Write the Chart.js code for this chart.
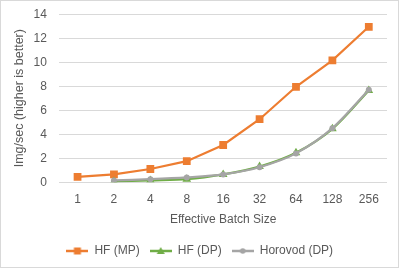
<!DOCTYPE html>
<html>
<head>
<meta charset="utf-8">
<script src="https://cdn.jsdelivr.net/npm/chart.js@4"></script>
<style>
  html, body { margin: 0; padding: 0; background: #fff; }
  #wrap { width: 397px; height: 266px; border: 1px solid #d9d9d9; }
</style>
</head>
<body>
<div id="wrap"><canvas id="chart" width="397" height="266"></canvas></div>
<script>
const batchSizes = ['1', '2', '4', '8', '16', '32', '64', '128', '256'];
const hfMp = [0.45, 0.65, 1.1, 1.75, 3.1, 5.25, 7.95, 10.15, 12.95];
const hfDp = [null, 0.05, 0.15, 0.25, 0.65, 1.3, 2.45, 4.45, 7.65];
const horovodDp = [null, 0.15, 0.25, 0.4, 0.65, 1.25, 2.4, 4.5, 7.7];

const textColor = '#595959';
const font = "'Liberation Sans', Arial, sans-serif";

// small picture of line + marker, like the Excel legend
function legendIcon(color, style) {
  const c = document.createElement('canvas');
  c.width = 22; c.height = 12;
  const ctx = c.getContext('2d');
  ctx.strokeStyle = color;
  ctx.lineWidth = 2.5;
  ctx.beginPath(); ctx.moveTo(0, 6); ctx.lineTo(22, 6); ctx.stroke();
  ctx.fillStyle = color;
  ctx.beginPath();
  if (style === 'rect') ctx.rect(7.5, 2.5, 7, 7);
  else if (style === 'triangle') { ctx.moveTo(11, 2); ctx.lineTo(15, 9); ctx.lineTo(7, 9); ctx.closePath(); }
  else ctx.arc(11, 6, 2.8, 0, Math.PI * 2);
  ctx.fill();
  return c;
}

const datasets = [
  { label: 'HF (MP)', data: hfMp, borderColor: '#ED7D31', backgroundColor: '#ED7D31',
    pointStyle: 'rect', pointRadius: 5.5, order: 2, tension: 0 },
  { label: 'HF (DP)', data: hfDp, borderColor: '#70AD47', backgroundColor: '#70AD47',
    pointStyle: 'triangle', pointRadius: 5, order: 1, tension: 0.3 },
  { label: 'Horovod (DP)', data: horovodDp, borderColor: '#A5A5A5', backgroundColor: '#A5A5A5',
    pointStyle: 'circle', pointRadius: 3, order: 0, tension: 0.3 }
];
datasets.forEach(d => { d.borderWidth = 2.2; d.pointBorderWidth = 0; d.icon = legendIcon(d.borderColor, d.pointStyle); });

new Chart(document.getElementById('chart'), {
  type: 'line',
  data: { labels: batchSizes, datasets: datasets },
  options: {
    responsive: false,
    animation: false,
    layout: { autoPadding: false, padding: { top: 6, right: 11, left: 11.5, bottom: 0 } },
    plugins: {
      tooltip: { enabled: false },
      legend: {
        position: 'bottom',
        labels: {
          usePointStyle: true,
          pointStyleWidth: 22,
          boxHeight: 12,
          color: textColor,
          font: { family: font, size: 12 },
          padding: 10,
          generateLabels: chart => chart.data.datasets.map((d, i) => ({
            text: d.label, pointStyle: d.icon, fillStyle: d.borderColor,
            strokeStyle: d.borderColor, lineWidth: 0, datasetIndex: i, fontColor: textColor
          }))
        }
      }
    },
    scales: {
      x: {
        offset: true,
        grid: { display: false },
        border: { display: false },
        ticks: { color: textColor, font: { family: font, size: 12 }, padding: 2 },
        title: { display: true, text: 'Effective Batch Size', color: textColor,
                 font: { family: font, size: 12 }, padding: { top: 4, bottom: 8 } }
      },
      y: {
        min: 0, max: 14,
        ticks: { stepSize: 2, color: textColor, font: { family: font, size: 12 }, padding: 6 },
        // invisible tick marks push the labels away from the plot
        grid: { color: '#d9d9d9', drawTicks: true, tickLength: 6.5, tickColor: 'rgba(0,0,0,0)' },
        border: { display: false },
        title: { display: true, text: 'Img/sec (higher is better)', color: textColor,
                 font: { family: font, size: 12.5 }, padding: { top: 0, bottom: 0 } }
      }
    }
  }
});
</script>
</body>
</html>
